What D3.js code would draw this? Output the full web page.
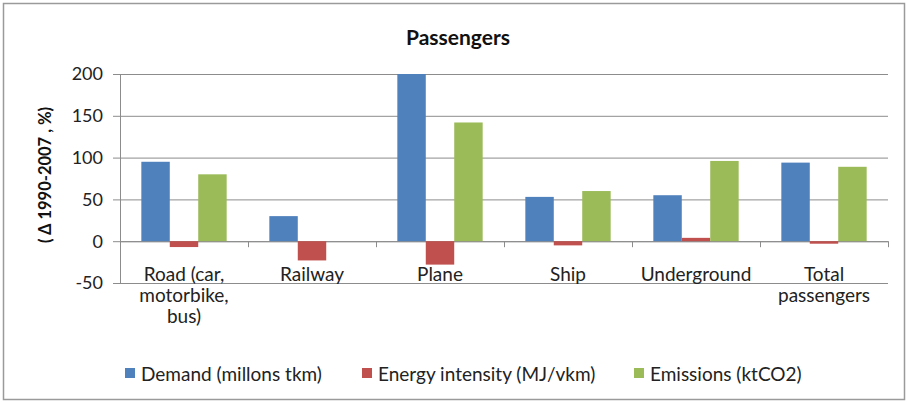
<!DOCTYPE html>
<html><head><meta charset="utf-8">
<script src="https://cdn.jsdelivr.net/npm/d3@7"></script>
<style>body{margin:0;background:#fff}svg{display:block}text{font-family:Lato,"Open Sans",sans-serif}</style>
</head><body>
<script>
const categories = [["Road (car,","motorbike,","bus)"],["Railway"],["Plane"],["Ship"],["Underground"],["Total","passengers"]];
const seriesNames = ["Demand (millons tkm)","Energy intensity (MJ/vkm)","Emissions (ktCO2)"];
const demand = [95, 30, 200, 53, 55, 94];
const energyIntensity = [-7, -23, -28, -5, 4, -3];
const emissions = [80, 0, 142, 60, 96, 89];
const yTicks = [-50, 0, 50, 100, 150, 200];
const colors = ["#4F81BD","#C0504D","#9BBB59"];

const W = 907, H = 402;
const svg = d3.select("body").append("svg").attr("width", W).attr("height", H);
svg.append("rect").attr("x",3.5).attr("y",3.5).attr("width",W-6).attr("height",H-6)
  .attr("fill","#fff").attr("stroke","#9a9a9a").attr("stroke-width",1.5);

const left = 120, right = 888;
const y = d3.scaleLinear().domain([-50, 200]).range([283, 74]);
const x0 = d3.scaleBand().domain(d3.range(categories.length)).range([left, right]).paddingInner(0).paddingOuter(0);
const barW = x0.bandwidth() / 4.5;
const x1 = d3.scaleBand().domain([0,1,2]).range([0, barW*3]);
const series = [demand, energyIntensity, emissions];

const g = svg.append("g");
g.selectAll("line.grid").data(yTicks).join("line")
  .attr("x1", left - 7).attr("x2", right).attr("y1", d => y(d)+0.5).attr("y2", d => y(d)+0.5)
  .attr("stroke", "#8c8c8c").attr("stroke-width", 1);
g.append("line").attr("x1", left+0.5).attr("x2", left+0.5).attr("y1", y(200)).attr("y2", y(-50)).attr("stroke","#8c8c8c");
g.selectAll("text.yt").data(yTicks).join("text")
  .attr("x", 103).attr("y", d => y(d)).attr("dy","0.35em").attr("text-anchor","end")
  .attr("font-size", 18).attr("fill","#222").text(d => d);

categories.forEach((c, i) => {
  const bx = x0(i) + (x0.bandwidth() - barW*3)/2;
  series.forEach((s, j) => {
    const v = s[i];
    if (v === 0) return;
    svg.append("rect").attr("x", bx + x1(j)).attr("width", x1.bandwidth())
      .attr("y", y(Math.max(0, v))).attr("height", Math.abs(y(v) - y(0)))
      .attr("fill", colors[j]);
  });
});

g.append("line").attr("x1", left).attr("x2", right).attr("y1", y(0)+0.5).attr("y2", y(0)+0.5).attr("stroke","#8c8c8c");
g.selectAll("line.ct").data(d3.range(categories.length+1)).join("line")
  .attr("x1", i => left + i*x0.bandwidth()+0.5).attr("x2", i => left + i*x0.bandwidth()+0.5)
  .attr("y1", y(0)).attr("y2", y(0)+6).attr("stroke","#8c8c8c");

categories.forEach((c, i) => {
  const t = svg.append("text").attr("text-anchor","middle").attr("font-size",19).attr("fill","#222");
  c.forEach((line, k) => {
    t.append("tspan").attr("x", x0(i) + x0.bandwidth()/2).attr("y", 281 + k*21).text(line);
  });
});

svg.append("text").attr("x", 458).attr("y", 45).attr("text-anchor","middle")
  .attr("font-size", 21).attr("font-weight","bold").attr("fill","#111").text("Passengers");

svg.append("text").attr("transform","translate(51,175) rotate(-90)").attr("text-anchor","middle")
  .attr("font-size", 16.5).attr("font-weight","bold").attr("fill","#111").text("( Δ 1990-2007 , %)");

const legX = [125, 362, 634];
seriesNames.forEach((n, j) => {
  svg.append("rect").attr("x", legX[j]).attr("y", 368).attr("width", 10).attr("height", 10).attr("fill", colors[j]);
  svg.append("text").attr("x", legX[j] + 16).attr("y", 374).attr("dy","0.35em")
    .attr("font-size", 19).attr("fill","#222").text(n);
});
</script>
</body></html>
